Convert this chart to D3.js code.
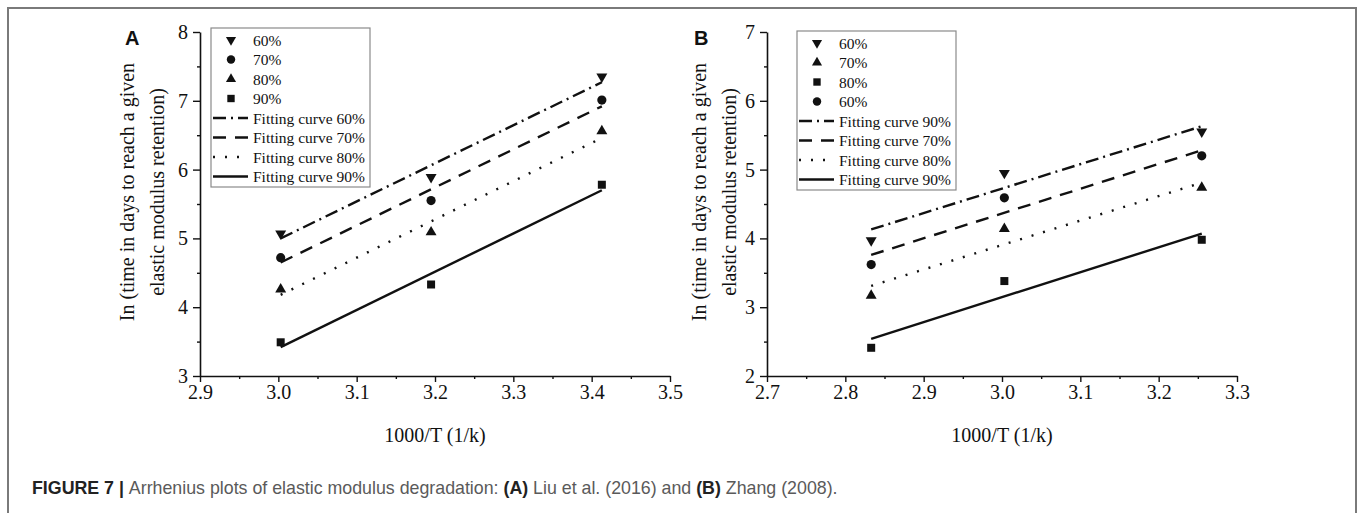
<!DOCTYPE html>
<html>
<head>
<meta charset="utf-8">
<script src="https://cdn.jsdelivr.net/npm/d3@7"></script>
<style>
  body { margin: 0; background: #fff; }
  svg { display: block; }
</style>
</head>
<body>
<script>
// panel A: Liu et al. (2016)
let xA = [3.003, 3.195, 3.413];
let a60 = [5.07, 5.89, 7.35];
let a70 = [4.72, 5.55, 7.01];
let a80 = [4.26, 5.09, 6.56];
let a90 = [3.49, 4.33, 5.78];
// fitting curve end points (at first and last x)
let fitA60 = [5.00, 7.27];
let fitA70 = [4.65, 6.92];
let fitA80 = [4.18, 6.46];
let fitA90 = [3.42, 5.70];

// panel B: Zhang (2008)
let xB = [2.833, 3.003, 3.255];
let bDown = [3.97, 4.95, 5.55];
let bCircle = [3.62, 4.59, 5.20];
let bUp = [3.17, 4.14, 4.74];
let bSquare = [2.41, 3.38, 3.98];
let fitB1 = [4.13, 5.63];
let fitB2 = [3.76, 5.28];
let fitB3 = [3.31, 4.81];
let fitB4 = [2.54, 4.07];

let legendA = ["60%", "70%", "80%", "90%",
  "Fitting curve 60%", "Fitting curve 70%", "Fitting curve 80%", "Fitting curve 90%"];
let legendB = ["60%", "70%", "80%", "60%",
  "Fitting curve 90%", "Fitting curve 70%", "Fitting curve 80%", "Fitting curve 90%"];

let xTicksA = [2.9, 3.0, 3.1, 3.2, 3.3, 3.4, 3.5];
let yTicksA = [3, 4, 5, 6, 7, 8];
let xTicksB = [2.7, 2.8, 2.9, 3.0, 3.1, 3.2, 3.3];
let yTicksB = [2, 3, 4, 5, 6, 7];

let width = 1360;
let height = 513;
let serif = "'Liberation Serif', 'Times New Roman', serif";
let sans = "'Liberation Sans', Arial, sans-serif";

let svg = d3.select("body").append("svg")
            .attr("width", width)
            .attr("height", height);

svg.append("rect").attr("width", width).attr("height", height).attr("fill", "#fff");

// outer frame
svg.append("path")
   .attr("d", "M8,520 V8 H1356 V520")
   .attr("fill", "none")
   .attr("stroke", "#7a7a7a")
   .attr("stroke-width", 2);

let dashStyles = ["13,5,2,5", "13,9", "2,10", null];

let symDown = { type: d3.symbolTriangle, size: 52, rot: 180 };
let symUp = { type: d3.symbolTriangle, size: 52, rot: 0 };
let symCircle = { type: d3.symbolCircle, size: 66, rot: 0 };
let symSquare = { type: d3.symbolSquare, size: 64, rot: 0 };

function drawPanel(p) {
  let g = svg.append("g");
  let x = d3.scaleLinear().domain(p.xDomain).range([p.left, p.right]);
  let y = d3.scaleLinear().domain(p.yDomain).range([p.bottom, p.top]);

  // minor ticks
  let xMinor = d3.range(p.xDomain[0] + 0.05, p.xDomain[1], 0.1);
  let yMinor = d3.range(p.yDomain[0] + 0.5, p.yDomain[1], 1);

  g.append("g")
    .attr("transform", "translate(0," + p.bottom + ")")
    .call(d3.axisBottom(x).tickValues(p.xTicks).tickFormat(d3.format(".1f"))
            .tickSizeInner(6).tickSizeOuter(0).tickPadding(3));
  g.append("g")
    .attr("transform", "translate(0," + p.bottom + ")")
    .call(d3.axisBottom(x).tickValues(xMinor).tickFormat("").tickSizeInner(3).tickSizeOuter(0))
    .select(".domain").remove();

  g.append("g")
    .attr("transform", "translate(" + p.left + ",0)")
    .call(d3.axisLeft(y).tickValues(p.yTicks).tickFormat(d3.format("d"))
            .tickSizeInner(7).tickSizeOuter(0).tickPadding(5));
  g.append("g")
    .attr("transform", "translate(" + p.left + ",0)")
    .call(d3.axisLeft(y).tickValues(yMinor).tickFormat("").tickSizeInner(3).tickSizeOuter(0))
    .select(".domain").remove();

  g.selectAll(".domain").attr("stroke", "#111").attr("stroke-width", 1.6);
  g.selectAll(".tick line").attr("stroke", "#111").attr("stroke-width", 1.4);
  g.selectAll(".tick text")
   .attr("font-family", serif)
   .attr("font-size", 20)
   .attr("fill", "#111");

  // axis titles
  g.append("text")
   .attr("x", (p.left + p.right) / 2)
   .attr("y", p.bottom + 66)
   .attr("text-anchor", "middle")
   .attr("font-family", serif)
   .attr("font-size", 20)
   .attr("fill", "#111")
   .text("1000/T (1/k)");

  let yt = g.append("text")
   .attr("transform", "translate(" + (p.left - p.yLabelOffset) + "," + p.yLabelMid + ") rotate(-90)")
   .attr("text-anchor", "middle")
   .attr("font-family", serif)
   .attr("font-size", 20)
   .attr("fill", "#111");
  yt.append("tspan").attr("x", 0).attr("dy", 0).text("In (time in days to reach a given");
  yt.append("tspan").attr("x", 0).attr("dy", 30).text("elastic modulus retention)");

  // panel letter
  g.append("text")
   .attr("x", p.letterX)
   .attr("y", 45)
   .attr("font-family", sans)
   .attr("font-weight", "bold")
   .attr("font-size", 20)
   .attr("fill", "#111")
   .text(p.letter);

  // fitting curves
  p.fits.forEach(function(f, i) {
    g.append("line")
     .attr("x1", x(p.xs[0])).attr("y1", y(f[0]))
     .attr("x2", x(p.xs[p.xs.length - 1])).attr("y2", y(f[1]))
     .attr("stroke", "#111")
     .attr("stroke-width", 2.4)
     .attr("stroke-dasharray", dashStyles[i]);
  });

  // markers
  p.series.forEach(function(s) {
    g.selectAll(null)
     .data(s.values)
     .enter().append("path")
     .attr("d", d3.symbol().type(s.sym.type).size(s.sym.size))
     .attr("transform", function(d, i) {
       return "translate(" + x(p.xs[i]) + "," + y(d) + ") rotate(" + s.sym.rot + ")";
     })
     .attr("fill", "#111");
  });

  // legend
  let lg = g.append("g").attr("transform", "translate(" + p.legendX + "," + p.legendY + ")");
  lg.append("rect")
    .attr("width", p.legendW).attr("height", 159)
    .attr("fill", "#fff")
    .attr("stroke", "#8a8a8a")
    .attr("stroke-width", 1.2);
  p.legend.forEach(function(label, i) {
    let cy = 12 + i * 19.5;
    if (i < 4) {
      let s = p.series[i].sym;
      lg.append("path")
        .attr("d", d3.symbol().type(s.type).size(s.size * 0.85))
        .attr("transform", "translate(20," + cy + ") rotate(" + s.rot + ")")
        .attr("fill", "#111");
    } else {
      lg.append("line")
        .attr("x1", 2).attr("x2", 37).attr("y1", cy).attr("y2", cy)
        .attr("stroke", "#111").attr("stroke-width", 2.4)
        .attr("stroke-dasharray", dashStyles[i - 4]);
    }
    lg.append("text")
      .attr("x", 42)
      .attr("y", cy + 5.5)
      .attr("font-family", serif)
      .attr("font-size", 15.5)
      .attr("fill", "#111")
      .text(label);
  });
}

drawPanel({
  letter: "A", letterX: 125,
  xDomain: [2.9, 3.5], yDomain: [3, 8],
  left: 200, right: 670, top: 32, bottom: 376,
  xTicks: xTicksA, yTicks: yTicksA,
  yLabelMid: 192, yLabelOffset: 66,
  xs: xA,
  series: [
    { values: a60, sym: symDown },
    { values: a70, sym: symCircle },
    { values: a80, sym: symUp },
    { values: a90, sym: symSquare }
  ],
  fits: [fitA60, fitA70, fitA80, fitA90],
  legend: legendA, legendX: 211, legendY: 28, legendW: 159
});

drawPanel({
  letter: "B", letterX: 694,
  xDomain: [2.7, 3.3], yDomain: [2, 7],
  left: 767, right: 1237, top: 32, bottom: 376,
  xTicks: xTicksB, yTicks: yTicksB,
  yLabelMid: 192, yLabelOffset: 61,
  xs: xB,
  series: [
    { values: bDown, sym: symDown },
    { values: bUp, sym: symUp },
    { values: bSquare, sym: symSquare },
    { values: bCircle, sym: symCircle }
  ],
  fits: [fitB1, fitB2, fitB3, fitB4],
  legend: legendB, legendX: 797, legendY: 31, legendW: 159
});

// caption
let cap = svg.append("text")
  .attr("x", 32)
  .attr("y", 494)
  .attr("font-family", sans)
  .attr("font-size", 17.8)
  .attr("fill", "#5a5a5a");
cap.append("tspan").attr("font-weight", "bold").attr("fill", "#222").text("FIGURE 7 | ");
cap.append("tspan").text("Arrhenius plots of elastic modulus degradation: ");
cap.append("tspan").attr("font-weight", "bold").attr("fill", "#222").text("(A)");
cap.append("tspan").text(" Liu et al. (2016) and ");
cap.append("tspan").attr("font-weight", "bold").attr("fill", "#222").text("(B)");
cap.append("tspan").text(" Zhang (2008).");
</script>
</body>
</html>
